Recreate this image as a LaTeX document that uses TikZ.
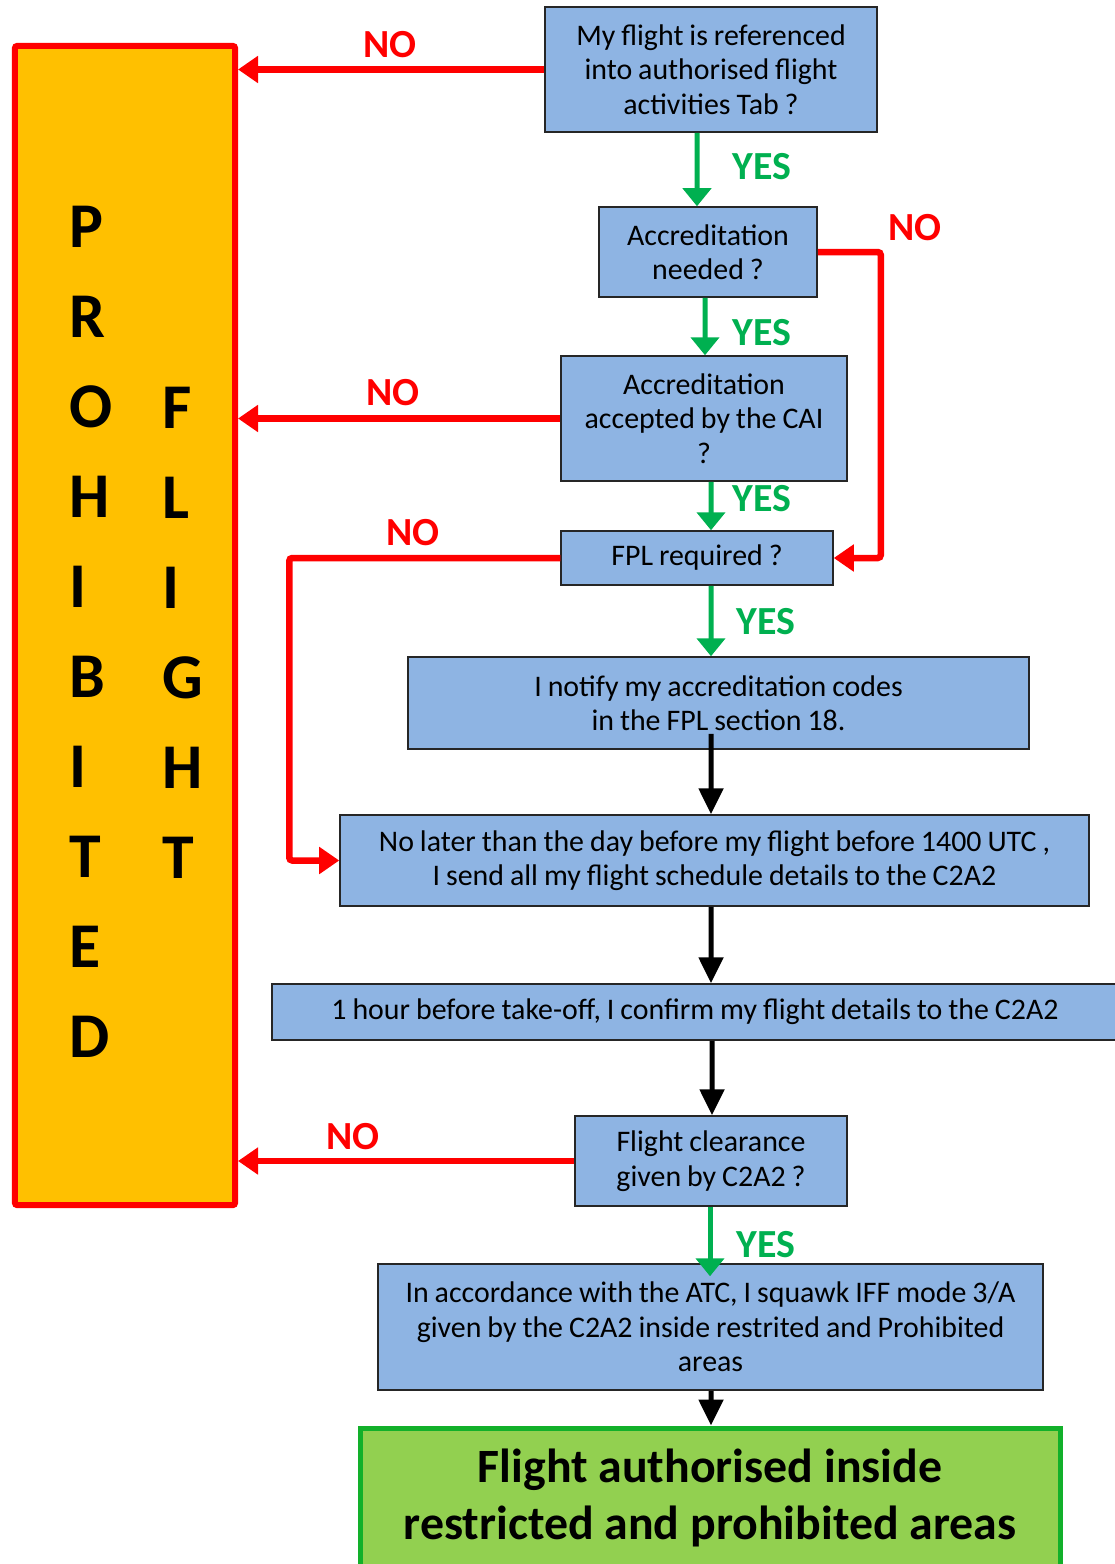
\documentclass[tikz,border=0pt]{standalone}
\usepackage{fontspec}
\setmainfont{Carlito}
\usepackage{tikz}
\usetikzlibrary{calc,arrows.meta,positioning}

\definecolor{boxblue}{HTML}{8EB4E3}
\definecolor{boxedge}{HTML}{262626}
\definecolor{banorange}{HTML}{FFC000}
\definecolor{nored}{HTML}{FF0000}
\definecolor{yesgreen}{HTML}{00B050}
\definecolor{okgreen}{HTML}{92D050}
\definecolor{okedge}{HTML}{12B02A}

\newcommand\stagefont{\fontsize{30}{34.5}\selectfont\spaceskip 0.2em\relax}

\begin{document}
\begin{tikzpicture}[x=1bp,y=-1bp]

  % Parameters
  \def\lstep{90}

  % Styles
  \tikzstyle{stage}=[draw=boxedge,line width=1.5bp,fill=boxblue,align=center,inner sep=0pt,font=\stagefont]
  \tikzstyle{banned}=[draw=nored,line width=6bp,fill=banorange,rounded corners=2bp,minimum width=220bp,minimum height=1159bp]
  \tikzstyle{letter}=[anchor=west,inner sep=0pt,font=\fontsize{64}{64}\selectfont\bfseries]
  \tikzstyle{done}=[draw=okedge,line width=5bp,fill=okgreen,align=center,inner sep=0pt,font=\fontsize{48}{57}\selectfont\bfseries]
  \tikzstyle{nolbl}=[text=nored,inner sep=0pt,font=\fontsize{40}{40}\selectfont\bfseries]
  \tikzstyle{yeslbl}=[text=yesgreen,inner sep=0pt,font=\fontsize{40}{40}\selectfont\bfseries]
  \tikzstyle{tono}=[-{Triangle[width=26bp,length=20bp]},draw=nored,line width=6.5bp]
  \tikzstyle{toyes}=[-{Triangle[width=28bp,length=18bp]},draw=yesgreen,line width=5bp]
  \tikzstyle{tonext}=[-{Triangle[width=24bp,length=26bp]},draw=black,line width=5bp]

  \useasboundingbox (0,0) rectangle (1114,1564);

  % Prohibited column
  \node[banned] (ban) at (125,625.5) {};
  \foreach \ch [count=\i from 0] in {P,R,O,H,I,B,I,T,E,D}
    \node[letter] (lp\i) at (69,227+\i*\lstep) {\ch};
  \foreach \ch [count=\i from 0] in {F,L,I,G,H,T}
    \node[letter] (lf\i) at (162,408+\i*\lstep) {\ch};

  % Steps
  \node[stage,minimum width=332bp,minimum height=125bp] (tab) at (711,69.5) {My flight is referenced\\into authorised flight\\activities Tab ?};
  \node[stage,minimum width=218bp,minimum height=90bp] (need) at (708,252) {Accreditation\\needed ?};
  \node[stage,minimum width=286bp,minimum height=125bp] (cai) at (704,418.5) {Accreditation\\accepted by the CAI\\?};
  \node[stage,minimum width=272bp,minimum height=54bp] (fpl) at (697,558) {FPL required ?};
  \node[stage,minimum width=621bp,minimum height=92bp] (notify) at (718.5,703) {I notify my accreditation codes\\in the FPL section 18.};
  \node[stage,minimum width=749bp,minimum height=91bp] (send) at (714.5,860.5) {No later than the day before my flight before 1400 UTC ,\\I send all my flight schedule details to the C2A2};
  \node[stage,minimum width=846bp,minimum height=56bp] (confirm) at (695,1012) {1 hour before take-off, I confirm my flight details to the C2A2};
  \node[stage,minimum width=272bp,minimum height=90bp] (clear) at (711,1161) {Flight clearance\\given by C2A2 ?};
  \node[stage,minimum width=665bp,minimum height=126bp] (squawk) at (710.5,1327) {In accordance with the ATC, I squawk IFF mode 3/A\\given by the C2A2 inside restrited and Prohibited\\areas};
  \node[done,minimum width=700bp,minimum height=140bp] (ok) at (710,1498) {Flight authorised inside\\restricted and prohibited areas};

  % YES arrows
  \draw[toyes] ([xshift=-14bp]tab.south) -- ([xshift=-11bp]need.north);
  \draw[toyes] ([xshift=-3bp]need.south) -- ([xshift=1bp]cai.north);
  \draw[toyes] ([xshift=7bp]cai.south) -- ([xshift=14bp]fpl.north);
  \draw[toyes] ([xshift=14bp]fpl.south) -- ([xshift=-7.5bp]notify.north);
  \draw[toyes,shorten >=-13bp] ([xshift=-1bp]clear.south) -- ([xshift=-0.5bp]squawk.north);

  % Plain arrows
  \draw[tonext] ([xshift=-7.5bp,yshift=16bp]notify.south) -- ([xshift=-3.5bp]send.north);
  \draw[tonext] ([xshift=-3.5bp]send.south) -- ([xshift=16bp]confirm.north);
  \draw[tonext] ([xshift=17bp]confirm.south) -- ([xshift=1bp]clear.north);
  \draw[tonext] ([xshift=0.5bp]squawk.south) -- ([xshift=1bp]ok.north);

  % NO arrows
  \draw[tono] (tab.west) -- (tab.west -| ban.east);
  \draw[tono] (cai.west) -- (cai.west -| ban.east);
  \draw[tono] (clear.west) -- (clear.west -| ban.east);
  \draw[tono,rounded corners=3bp] (need.east) -- ++(63,0) |- (fpl.east);
  \draw[tono,rounded corners=3bp] (fpl.west) -- ++(-271,0) |- (send.west);

  % Labels
  \node[nolbl] (no1) at (390,45) {NO};
  \node[nolbl] (no2) at (915,228) {NO};
  \node[nolbl] (no3) at (393,393) {NO};
  \node[nolbl] (no4) at (413,533) {NO};
  \node[nolbl] (no5) at (353,1137) {NO};
  \node[yeslbl] (yes1) at (762,167) {YES};
  \node[yeslbl] (yes2) at (762,333) {YES};
  \node[yeslbl] (yes3) at (762,499) {YES};
  \node[yeslbl] (yes4) at (766,622) {YES};
  \node[yeslbl] (yes5) at (766,1245) {YES};

\end{tikzpicture}
\end{document}
